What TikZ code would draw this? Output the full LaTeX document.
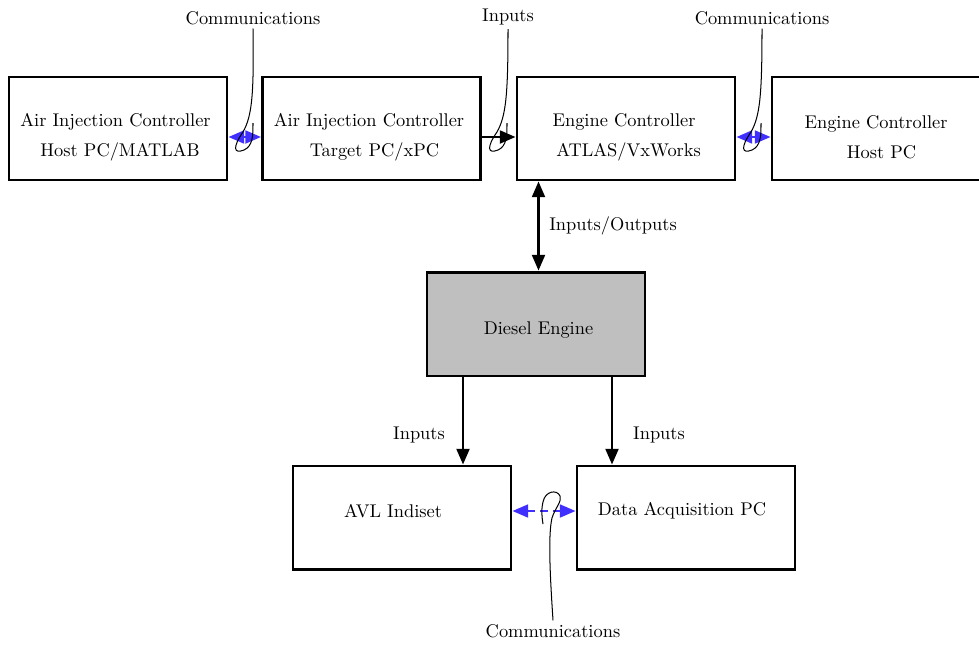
\documentclass[tikz,border=0pt]{standalone}
\usetikzlibrary{arrows.meta}
\definecolor{commblue}{RGB}{64,48,255}
\definecolor{enggray}{RGB}{191,191,191}
\begin{document}
\begin{tikzpicture}[x=0.5435pt,y=-0.5435pt,
  box/.style={draw,line width=1.6pt,minimum width=118.5pt,minimum height=56pt,inner sep=0pt},
  txt/.style={align=center,inner sep=0pt},
  lbl/.style={inner sep=2pt},
  tip/.tip={Triangle[length=8.5pt,width=7pt]},
  blackarr/.style={line width=1.25pt},
  commarr/.style={commblue,line width=1.2pt,dash pattern=on 4pt off 3pt,tip-tip},
  curve/.style={line width=0.55pt}]
\clip (0,0) rectangle (979,644);
% boxes
\node[box] (b1) at (118,128.5) {};
\node[box] (b2) at (371.5,128.5) {};
\node[box] (b3) at (626,128.5) {};
\node[box] (b4) at (881,128.5) {};
\node[box,fill=enggray,minimum height=56.5pt] (d) at (536,324) {};
\node[box] (a) at (402,517.5) {};
\node[box] (q) at (686,517.5) {};
% box texts
\node[txt] (t1) at (115.5,137) {Air Injection Controller\\[4.3pt]\hspace*{5pt}Host PC/MATLAB};
\node[txt] (t2) at (369,137) {Air Injection Controller\\[4.3pt]\hspace*{6pt}Target PC/xPC};
\node[txt] (t3) at (624,137) {Engine Controller\\[4.3pt]\hspace*{5pt}ATLAS/VxWorks};
\node[txt] (t4) at (876,137) {Engine Controller\\[4.3pt]\hspace*{6pt}Host PC};
\node[txt] (td) at (538.5,330.5) {Diesel Engine};
\node[txt] (ta) at (393,511) {AVL Indiset};
\node[txt] (tq) at (682,511) {Data Acquisition PC};
% labels
\node[lbl] (c1) at (253,18) {Communications};
\node[lbl] (c2) at (508,17) {Inputs};
\node[lbl] (c3) at (762,18) {Communications};
\node[lbl] (io) at (613,226) {Inputs/Outputs};
\node[lbl] (i1) at (419,435) {Inputs};
\node[lbl] (i2) at (659,435) {Inputs};
\node[lbl] (c4) at (553,631) {Communications};
% connectors
\draw[commarr] (b1.east |- t1.center) -- (b2.west |- t1.center);
\draw[blackarr,-tip] (b2.east |- t2.center) -- (b3.west |- t2.center);
\draw[commarr] (b3.east |- t3.center) -- (b4.west |- t3.center);
\draw[blackarr,tip-tip] (td.center |- b3.south) -- (td.center |- d.north);
\coordinate (p1) at (463,400);
\coordinate (p2) at (612,400);
\draw[blackarr,-tip] (p1 |- d.south) -- (p1 |- a.north);
\draw[blackarr,-tip] (p2 |- d.south) -- (p2 |- q.north);
\draw[commarr] (a.east |- ta.center) -- (q.west |- ta.center);
% label curves
\draw[curve] (c1.south) .. controls (254,95) and (252,116) .. (243,132)
  .. controls (232,148) and (234,154) .. (244,150)
  .. controls (253,146) and (253,135) .. (253,123);
\draw[curve] (c2.south) .. controls (508,95) and (506,116) .. (497,132)
  .. controls (486,148) and (488,154) .. (498,150)
  .. controls (507,146) and (507,135) .. (507,123);
\draw[curve] (c3.south) .. controls (762,95) and (760,116) .. (751,132)
  .. controls (740,148) and (742,154) .. (752,150)
  .. controls (761,146) and (761,135) .. (761,123);
\draw[curve] (c4.north) .. controls (550,575) and (548,535) .. (552,518)
  .. controls (555,508) and (562,502) .. (560,496)
  .. controls (557,489) and (545,491) .. (543,502)
  .. controls (541,510) and (542,518) .. (543,524);
\end{tikzpicture}
\end{document}
